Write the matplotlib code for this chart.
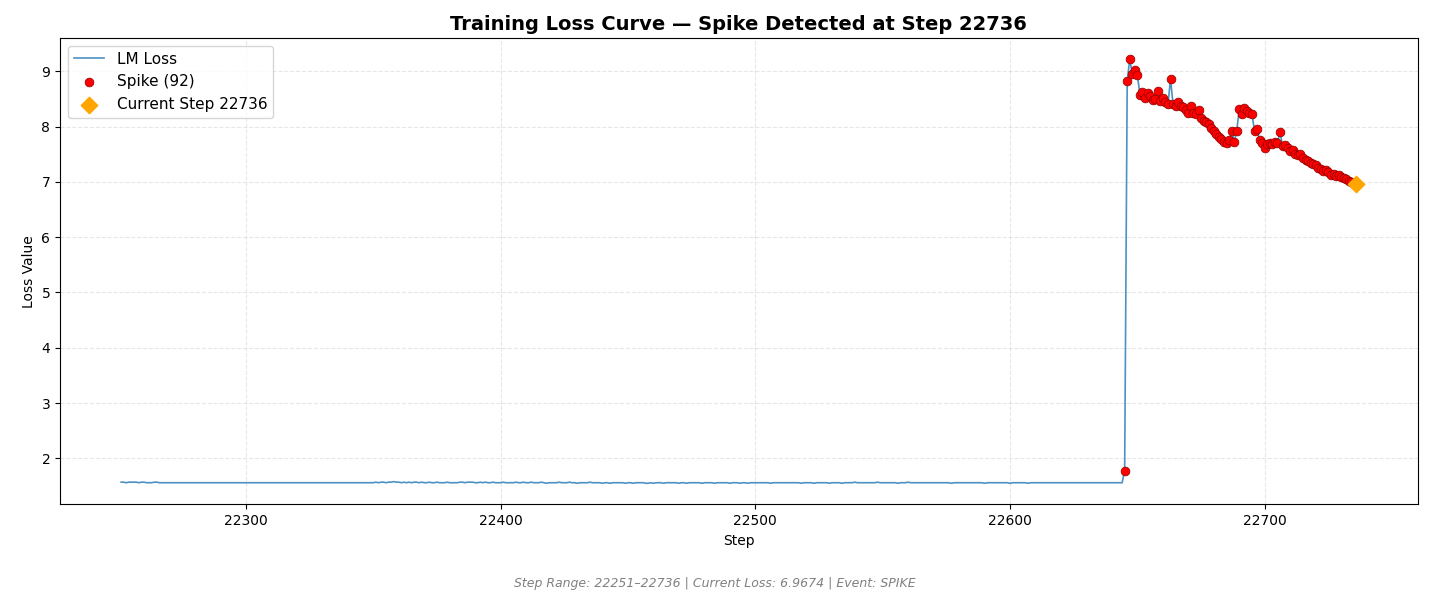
import numpy as np
import matplotlib
matplotlib.use("Agg")
import matplotlib.pyplot as plt

start_step = 22251
# baseline loss values (hundredths), steps 22251..22644
baseline_str = """
157 157 156 157 157 157 157 156 157 157 156 156 156 157 157 156 156 156 156 156
156 156 156 156 156 156 156 156 156 156 156 156 156 156 156 156 156 156 156 156
156 156 156 156 156 156 156 156 156 156 156 156 156 156 156 156 156 156 156 156
156 156 156 156 156 156 156 156 156 156 156 156 156 156 156 156 156 156 156 156
156 156 156 156 156 156 156 156 156 156 156 156 156 156 156 156 156 156 156 156
157 156 157 157 156 157 157 158 157 157 156 157 156 157 156 157 157 156 157 156
156 157 156 156 157 156 156 156 157 156 156 156 156 157 157 156 157 157 157 156
156 157 156 157 156 156 157 156 156 156 157 156 156 156 156 157 156 156 157 156
156 157 156 156 156 157 156 155 156 156 156 156 157 156 156 156 157 156 156 155
156 156 156 156 157 156 156 156 156 155 156 156 155 156 156 156 156 156 155 156
156 155 156 156 156 156 155 155 156 155 156 156 156 155 156 156 156 156 156 155
156 156 155 156 156 156 156 156 155 156 156 156 156 155 156 156 156 156 156 155
156 156 156 155 156 156 155 156 156 156 156 156 156 156 156 155 156 156 156 156
156 156 156 156 156 156 156 155 156 156 156 156 155 156 156 156 156 156 155 156
156 156 156 155 156 156 156 156 157 156 156 156 156 156 156 156 156 157 156 156
156 156 156 156 156 155 156 156 156 157 156 156 156 156 156 156 156 156 156 156
156 156 156 156 156 156 155 156 156 156 156 156 156 156 156 156 156 156 156 155
156 156 156 156 156 156 156 156 156 155 156 156 156 156 156 156 155 156 156 156
156 156 156 156 156 156 156 156 156 156 156 156 156 156 156 156 156 156 156 156
156 156 156 156 156 156 156 156 156 156 156 156 156 156
"""
baseline = [int(v) / 100 for v in baseline_str.split()]

spike_first = [1.78]  # step 22645
spike_values = [8.82, 9.22, 8.95, 9.02, 8.93, 8.58, 8.62, 8.52, 8.60, 8.55,
                8.48, 8.50, 8.65, 8.47, 8.52, 8.45, 8.40, 8.86, 8.40, 8.38,
                8.44, 8.38, 8.35, 8.30, 8.25, 8.38, 8.25, 8.22, 8.30, 8.15,
                8.10, 8.08, 8.05, 7.98, 7.92, 7.87, 7.82, 7.78, 7.72, 7.70,
                7.75, 7.92, 7.72, 7.92, 8.32, 8.22, 8.33, 8.28, 8.25, 8.22,
                7.92, 7.95, 7.75, 7.70, 7.62, 7.68, 7.70, 7.68, 7.72, 7.70,
                7.90, 7.65, 7.66, 7.62, 7.55, 7.58, 7.50, 7.48, 7.50, 7.44,
                7.40, 7.38, 7.35, 7.32, 7.30, 7.26, 7.24, 7.20, 7.22, 7.18,
                7.12, 7.15, 7.10, 7.12, 7.08, 7.07, 7.05, 7.02, 7.00, 6.98,
                6.9674]

loss = np.array(baseline + spike_first + spike_values)
steps = np.arange(start_step, start_step + len(loss))
spike_mask = steps >= 22645
current_step = int(steps[-1])
current_loss = loss[-1]

fig, ax = plt.subplots(figsize=(14.29, 6.02), dpi=100)
ax.plot(steps, loss, color="#1f77b4", lw=1.2, alpha=0.8, label="LM Loss")
ax.scatter(steps[spike_mask], loss[spike_mask], color="red", s=40, zorder=3,
           edgecolors="darkred", linewidths=0.5, label=f"Spike ({spike_mask.sum()})")
ax.scatter([current_step], [current_loss], marker="D", color="orange", s=70, zorder=4,
           label=f"Current Step {current_step}")
ax.set_xlim(22227, 22760)
ax.set_xlabel("Step")
ax.set_ylabel("Loss Value")
ax.set_title(f"Training Loss Curve — Spike Detected at Step {current_step}",
             fontsize=14, fontweight="bold")
ax.grid(True, linestyle="--", alpha=0.3)
ax.legend(loc="upper left", fontsize=11)
fig.text(0.5, 0.025, f"Step Range: {steps[0]}–{current_step} | Current Loss: {current_loss:.4f} | Event: SPIKE",
         ha="center", fontsize=9, style="italic", color="gray")
fig.subplots_adjust(left=0.042, right=0.992, top=0.937, bottom=0.162)
fig.savefig("out.png", dpi=100)
